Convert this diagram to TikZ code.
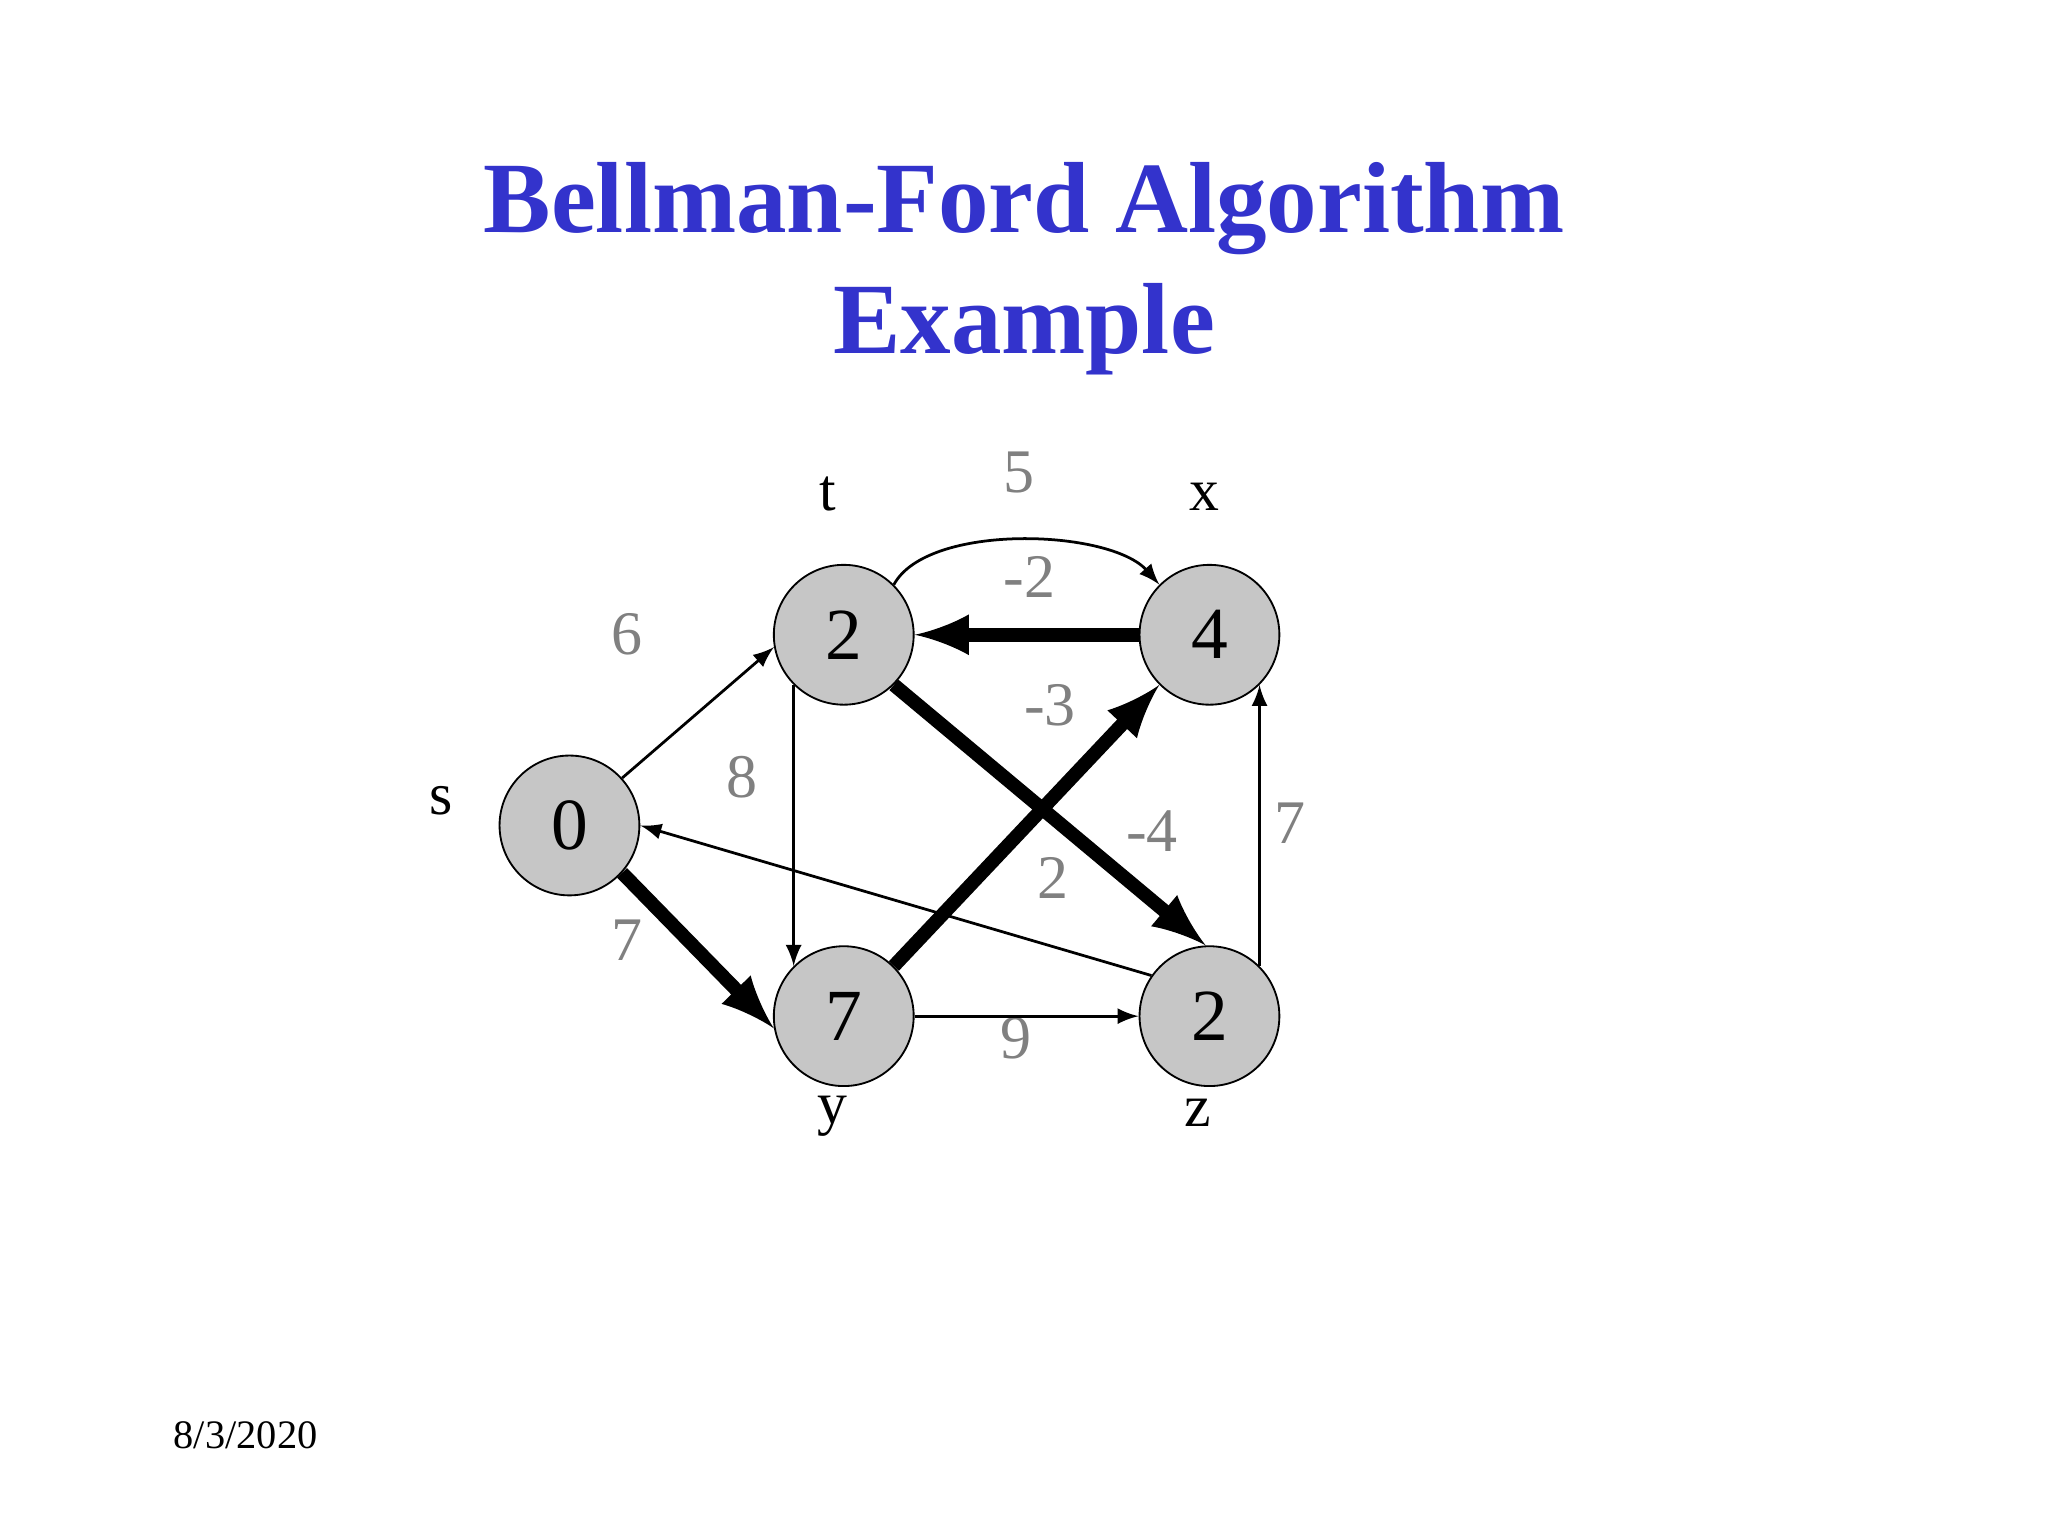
\documentclass[tikz,border=0pt]{standalone}
\usepackage{fontspec}
\setmainfont{Liberation Serif}
\begin{document}
\begin{tikzpicture}[x=0.01cm,y=-0.01cm,
  vert/.style={circle,draw,fill=gray!45,minimum size=1.07cm,inner sep=0pt,font=\fontsize{16}{16}\selectfont},
  lab/.style={font=\fontsize{13}{13}\selectfont},
  wt/.style={font=\fontsize{13.5}{13.5}\selectfont,text=gray},
  thin/.style={-latex,line width=0.6pt},
  thick/.style={-latex,line width=3pt}]
\useasboundingbox (0,0) rectangle (1568,1176);
\node[font=\fontsize{22}{22}\selectfont\bfseries,text={rgb,255:red,51;green,51;blue,204}] (title1) at (784,160) {Bellman-Ford Algorithm};
\node[font=\fontsize{22}{22}\selectfont\bfseries,text={rgb,255:red,51;green,51;blue,204}] (title2) at (784,252) {Example};
\node[vert] (s) at (436,632) {0};
\node[vert] (t) at (646,486) {2};
\node[vert] (x) at (926,486) {4};
\node[vert] (y) at (646,778) {7};
\node[vert] (z) at (926,778) {2};
\node[lab] (ls) at (338,613) {s};
\node[lab] (lt) at (634,378) {t};
\node[lab] (lx) at (922,380) {x};
\node[lab] (ly) at (637,855) {y};
\node[lab] (lz) at (917,852) {z};
\node[wt] (w1) at (480,486) {6};
\node[wt] (w2) at (480,720) {7};
\node[wt] (w3) at (568,595) {8};
\node[wt] (w4) at (780,362) {5};
\node[wt] (w5) at (788,442) {-2};
\node[wt] (w6) at (804,540) {-3};
\node[wt] (w7) at (882,636) {-4};
\node[wt] (w8) at (806,672) {2};
\node[wt] (w9) at (988,630) {7};
\node[wt] (w10) at (778,795) {9};
\node[font=\fontsize{8.8}{8.8}\selectfont] (date) at (188,1099) {8/3/2020};
\draw[thin] (s.42) -- (t.190);
\draw[thick] (s.-42) -- (y.190);
\draw[thin] (t.45) .. controls (710,400) and (850,405) .. (x.135);
\draw[thick] (x.west) -- (t.east);
\draw[thin] (t.-135) -- (y.135);
\draw[thick] (t.-45) -- (z.93);
\draw[thick] (y.45) -- (x.-135);
\draw[thin] (z.145) -- (s.east);
\draw[thin] (y.east) -- (z.west);
\draw[thin] (z.45) -- (x.-45);
\end{tikzpicture}
\end{document}
